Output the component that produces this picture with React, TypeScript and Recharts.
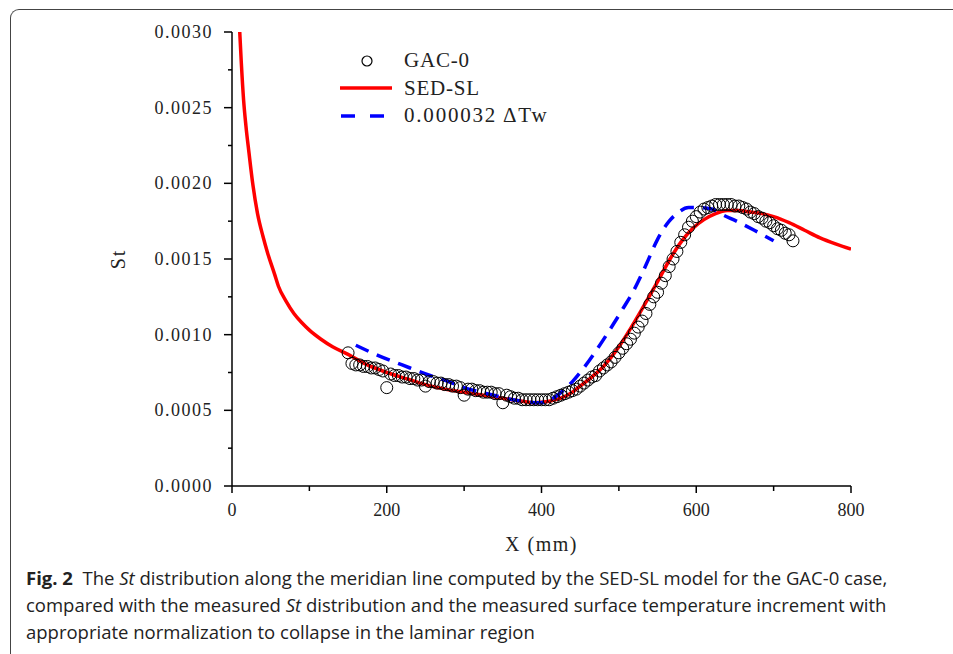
import React from 'react';
import { ComposedChart, Line, Scatter, XAxis, YAxis } from 'recharts';

// measured St (GAC-0), x in mm
const gacX = [
  150, 155, 160, 165, 170, 175, 180, 185, 190, 195, 200, 205, 210, 215, 220, 225, 230, 235, 240, 245,
  250, 255, 260, 265, 270, 275, 280, 285, 290, 295, 300, 305, 310, 315, 320, 325, 330, 335, 340, 345,
  350, 355, 360, 365, 370, 375, 380, 385, 390, 395, 400, 405, 410, 415, 420, 425, 430, 435, 440, 445,
  450, 455, 460, 465, 470, 475, 480, 485, 490, 495, 500, 505, 510, 515, 520, 525, 530, 535, 540, 545,
  550, 555, 560, 565, 570, 575, 580, 585, 590, 595, 600, 605, 610, 615, 620, 625, 630, 635, 640, 645,
  650, 655, 660, 665, 670, 675, 680, 685, 690, 695, 700, 705, 710, 715, 720, 725,
];
const gacSt = [
  0.00088, 0.00081, 0.0008, 0.0008, 0.00079, 0.00079, 0.00078, 0.00078, 0.00077, 0.00076,
  0.00065, 0.00074, 0.00073, 0.00073, 0.00072, 0.00072, 0.00071, 0.00071, 0.0007, 0.0007,
  0.00066, 0.00069, 0.00069, 0.00068, 0.00068, 0.00067, 0.00067, 0.00066, 0.00066, 0.00065,
  0.0006, 0.00064, 0.00064, 0.00063, 0.00063, 0.00062, 0.00062, 0.00062, 0.00061, 0.00061,
  0.00055, 0.0006, 0.00059, 0.00058, 0.00058, 0.00057, 0.00057, 0.00057, 0.00057, 0.00057,
  0.00057, 0.00057, 0.00057, 0.00058, 0.00059, 0.0006, 0.00061, 0.00062, 0.00063, 0.00064,
  0.00066, 0.00068, 0.0007, 0.00072, 0.00073, 0.00076, 0.00078, 0.0008, 0.00082, 0.00085,
  0.00088, 0.00091, 0.00094, 0.00097, 0.00101, 0.00105, 0.00109, 0.00114, 0.0012, 0.00125,
  0.00128, 0.00134, 0.00139, 0.00145, 0.0015, 0.00155, 0.00161, 0.00166, 0.00171, 0.00175,
  0.00178, 0.00181, 0.00183, 0.00184, 0.00185, 0.00186, 0.00186, 0.00186, 0.00186, 0.00186,
  0.00185, 0.00185, 0.00184, 0.00183, 0.00181, 0.0018, 0.00178, 0.00177, 0.00175, 0.00174,
  0.00172, 0.0017, 0.00169, 0.00167, 0.00166, 0.00162,
];

// SED-SL model curve
const sedX = [
  10, 12, 15, 18, 22, 27, 33, 40, 46, 55, 60, 70, 80, 90, 100, 115, 130, 150, 175, 200, 225, 250,
  275, 300, 325, 350, 375, 390, 410, 425, 440, 450, 465, 480, 500, 515, 530, 550, 565, 580, 595,
  610, 625, 640, 655, 670, 685, 700, 720, 740, 760, 780, 800,
];
const sedSt = [
  0.003, 0.0028, 0.00255, 0.00238, 0.0022, 0.00199, 0.0018, 0.00165, 0.00154, 0.0014, 0.00132,
  0.00122, 0.00114, 0.00108, 0.00103, 0.00097, 0.00092, 0.00087, 0.0008, 0.00075, 0.00071, 0.00067,
  0.00064, 0.00062, 0.0006, 0.00058, 0.00056, 0.00055, 0.00056, 0.00058, 0.00062, 0.00066, 0.00072,
  0.00079, 0.00092, 0.00104, 0.00117, 0.00135, 0.00149, 0.00161, 0.0017, 0.00176, 0.0018, 0.00182,
  0.00182, 0.00181, 0.0018, 0.00178, 0.00174, 0.00169, 0.00164, 0.0016, 0.001565,
];

// 0.000032 ΔTw
const twX = [
  160, 190, 220, 256, 280, 300, 330, 363, 398, 415, 428, 440, 450, 470, 488, 505, 520, 535, 550,
  565, 575, 590, 605, 620, 635, 652, 675, 700,
];
const twSt = [
  0.00093, 0.00086, 0.0008, 0.00073, 0.00069, 0.00065, 0.00061, 0.00057, 0.00055, 0.00058, 0.00063,
  0.00069, 0.00075, 0.00089, 0.00103, 0.00117, 0.0013, 0.00146, 0.00163, 0.00175, 0.0018, 0.00184,
  0.00184, 0.00183, 0.00179, 0.00175, 0.00169, 0.00162,
];

const xTicks = [0, 100, 200, 300, 400, 500, 600, 700, 800];
const yTicks = [0, 0.00025, 0.0005, 0.00075, 0.001, 0.00125, 0.0015, 0.00175, 0.002, 0.00225, 0.0025, 0.00275, 0.003];

const gacData = gacX.map((x, i) => ({ x, st: gacSt[i] }));
const sedData = sedX.map((x, i) => ({ x, st: sedSt[i] }));
const twData = twX.map((x, i) => ({ x, st: twSt[i] }));

const serif = '"Liberation Serif", "DejaVu Serif", serif';

function XTick(props: any) {
  const { x, y, index, payload } = props;
  const major = index % 2 === 0;
  return (
    <g>
      <line x1={x} y1={y} x2={x} y2={y + (major ? 7 : 5)} stroke="#000" strokeWidth={1.5} />
      {major && (
        <text x={x} y={y + 30} textAnchor="middle" fontSize={18} fontFamily={serif} fill="#222">
          {payload.value}
        </text>
      )}
    </g>
  );
}

function YTick(props: any) {
  const { x, y, index, payload } = props;
  const major = index % 2 === 0;
  return (
    <g>
      <line x1={x} y1={y} x2={x - (major ? 8 : 4)} y2={y} stroke="#000" strokeWidth={1.5} />
      {major && (
        <text x={x - 19} y={y + 6} textAnchor="end" fontSize={18} fontFamily={serif} fill="#222" letterSpacing={1.5}>
          {Number(payload.value).toFixed(4)}
        </text>
      )}
    </g>
  );
}

function YTitle(props: any) {
  const { viewBox } = props;
  const cx = viewBox.x + 6;
  const cy = viewBox.y + viewBox.height / 2;
  return (
    <text x={cx} y={cy} transform={`rotate(-90 ${cx} ${cy})`} textAnchor="middle" dominantBaseline="central" fontSize={20} fontFamily={serif} fill="#222" letterSpacing={2}>
      St
    </text>
  );
}

function LegendBox() {
  const row = { display: 'flex', alignItems: 'center', height: 27.5 } as React.CSSProperties;
  const label = { fontFamily: serif, fontSize: 21, color: '#222', marginLeft: 12, letterSpacing: 0.8 } as React.CSSProperties;
  return (
    <div style={{ position: 'absolute', left: 340, top: 47 }}>
      <div style={row}>
        <svg width={52} height={20}>
          <circle cx={27} cy={10} r={5} fill="none" stroke="#000" strokeWidth={1.2} />
        </svg>
        <span style={label}>GAC-0</span>
      </div>
      <div style={row}>
        <svg width={52} height={20}>
          <line x1={0} y1={10} x2={52} y2={10} stroke="#ff0000" strokeWidth={3.5} />
        </svg>
        <span style={label}>SED-SL</span>
      </div>
      <div style={row}>
        <svg width={52} height={20}>
          <line x1={1} y1={10} x2={46} y2={10} stroke="#0000ff" strokeWidth={3.5} strokeDasharray="14 15" />
        </svg>
        <span style={{ ...label, letterSpacing: 1.8 }}>0.000032 ΔTw</span>
      </div>
    </div>
  );
}

export default function App() {
  return (
    <div style={{ position: 'absolute', left: 0, top: 0, width: 953, height: 654, overflow: 'hidden', background: '#fff' }}>
      <div
        style={{
          position: 'absolute', left: 10, top: 9, width: 1100, height: 800,
          borderLeft: '1px solid #444', borderTop: '1px solid #444', borderTopLeftRadius: 9,
        }}
      />
      <div style={{ position: 'absolute', left: 0, top: 0 }}>
        <ComposedChart width={953} height={560} margin={{ top: 32, right: 102, left: 112, bottom: 0 }}>
          <XAxis
            dataKey="x" type="number" domain={[0, 800]} ticks={xTicks} interval={0}
            tick={<XTick />} tickLine={false} tickSize={0} tickMargin={0} height={74}
            axisLine={{ stroke: '#000', strokeWidth: 1.5 }} allowDataOverflow
            label={{ value: 'X  (mm)', position: 'insideBottom', offset: 9, fontSize: 20, fontFamily: serif, fill: '#222', letterSpacing: 1.5 }}
          />
          <YAxis
            dataKey="st" type="number" domain={[0, 0.003]} ticks={yTicks} interval={0}
            tick={<YTick />} tickLine={false} tickSize={0} tickMargin={0} width={120}
            axisLine={{ stroke: '#000', strokeWidth: 1.5 }} allowDataOverflow
            label={<YTitle />}
          />
          <Scatter
            name="GAC-0" data={gacData} dataKey="st" isAnimationActive={false}
            shape={(p: any) => <circle cx={p.cx} cy={p.cy} r={6} fill="none" stroke="#000" strokeWidth={1} />}
          />
          <Line name="SED-SL" data={sedData} dataKey="st" type="monotone" stroke="#ff0000" strokeWidth={3.5} dot={false} isAnimationActive={false} />
          <Line name="0.000032 ΔTw" data={twData} dataKey="st" type="monotone" stroke="#0000ff" strokeWidth={3.5} strokeDasharray="14 9" dot={false} isAnimationActive={false} />
        </ComposedChart>
      </div>
      <LegendBox />
      <div style={{ position: 'absolute', left: 26, top: 564, fontFamily: '"Open Sans", "Noto Sans", sans-serif', fontSize: 18.5, lineHeight: '27px', color: '#222', whiteSpace: 'nowrap' }}>
        <div><b>Fig. 2</b>&nbsp; The <i>St</i> distribution along the meridian line computed by the SED-SL model for the GAC-0 case,</div>
        <div>compared with the measured <i>St</i> distribution and the measured surface temperature increment with</div>
        <div>appropriate normalization to collapse in the laminar region</div>
      </div>
    </div>
  );
}
